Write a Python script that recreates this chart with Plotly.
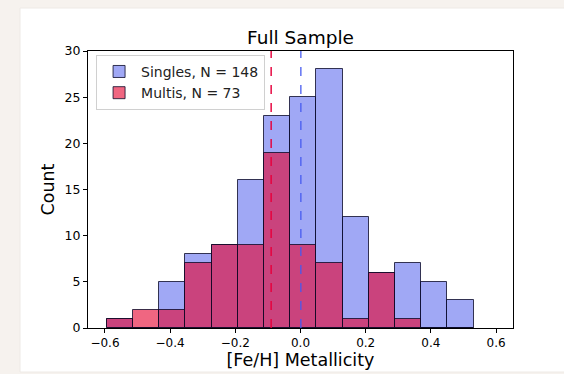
import plotly.graph_objects as go

# ---- data ----
bin_edges = [-0.594, -0.514, -0.434, -0.354, -0.273, -0.193, -0.112, -0.032,
             0.048, 0.129, 0.209, 0.290, 0.370, 0.451, 0.531]
singles_counts = [1, 0, 5, 8, 9, 16, 23, 25, 28, 12, 6, 7, 5, 3]
multis_counts = [1, 2, 2, 7, 9, 9, 19, 9, 7, 1, 6, 1, 0, 0]
singles_mean = 0.001
multis_mean = -0.090
singles_label = "Singles, N = 148"
multis_label = "Multis, N = 73"
x_ticks = [-0.6, -0.4, -0.2, 0.0, 0.2, 0.4, 0.6]
y_ticks = [0, 5, 10, 15, 20, 25, 30]

centers = [(a + b) / 2 for a, b in zip(bin_edges[:-1], bin_edges[1:])]
widths = [b - a for a, b in zip(bin_edges[:-1], bin_edges[1:])]

FONT = "DejaVu Sans"
edge = dict(color="rgba(10,10,40,0.8)", width=1)

fig = go.Figure()
fig.add_trace(go.Bar(x=centers, y=singles_counts, width=widths, name=singles_label,
                     marker=dict(color="rgba(65,81,235,0.5)", line=edge)))
fig.add_trace(go.Bar(x=centers, y=multis_counts, width=widths, name=multis_label,
                     marker=dict(color="rgba(230,0,45,0.6)", line=edge)))

fig.add_trace(go.Scatter(x=[multis_mean, multis_mean], y=[0, 30], mode="lines",
                         line=dict(color="rgba(230,0,60,0.9)", dash="dash", width=1.6),
                         showlegend=False, hoverinfo="skip"))
fig.add_trace(go.Scatter(x=[singles_mean, singles_mean], y=[0, 30], mode="lines",
                         line=dict(color="rgba(70,90,240,0.8)", dash="dash", width=1.6),
                         showlegend=False, hoverinfo="skip"))

# white card on beige page
fig.add_shape(type="rect", xref="paper", yref="paper",
              x0=(20 - 88) / 425, x1=(566 - 88) / 425,
              y0=(328 - 372) / 277, y1=(328 - 8) / 277,
              fillcolor="white", line=dict(color="#eeeae6", width=1), layer="below")

def fmt(v):
    s = f"{abs(v):.1f}"
    return ("\u2212" + s) if v < 0 else s

fig.update_layout(
    width=564, height=374,
    margin=dict(l=88, r=51, t=51, b=46),
    paper_bgcolor="#f6f2ee",
    plot_bgcolor="white",
    barmode="overlay",
    bargap=0,
    font=dict(family=FONT, color="black", size=12),
    title=dict(text="Full Sample", x=300.5 / 564, xanchor="center",
               y=1 - 38 / 374, yanchor="middle",
               font=dict(family=FONT, size=18.5, color="black")),
    legend=dict(x=0.019, y=0.986, xanchor="left", yanchor="top",
                bgcolor="rgba(255,255,255,0.85)", bordercolor="#d0d0d0", borderwidth=1,
                font=dict(family=FONT, size=14, color="#222"),
                itemwidth=34, tracegroupgap=2),
    showlegend=True,
)
fig.update_xaxes(range=[-0.652, 0.652], tickvals=x_ticks, ticktext=[fmt(v) for v in x_ticks],
                 ticks="outside", ticklen=4, tickcolor="black", automargin=False,
                 showline=True, linecolor="black", linewidth=1, mirror=True,
                 showgrid=False, zeroline=False,
                 title=dict(text="[Fe/H] Metallicity", font=dict(family=FONT, size=17.5), standoff=2),
                 tickfont=dict(family=FONT, size=12))
fig.update_yaxes(range=[0, 30], tickvals=y_ticks,
                 ticks="outside", ticklen=4, tickcolor="black", automargin=False,
                 showline=True, linecolor="black", linewidth=1, mirror=True,
                 showgrid=False, zeroline=False,
                 title=dict(text="Count", font=dict(family=FONT, size=17.5), standoff=5),
                 tickfont=dict(family=FONT, size=12.5))

fig.write_html("out.html")
